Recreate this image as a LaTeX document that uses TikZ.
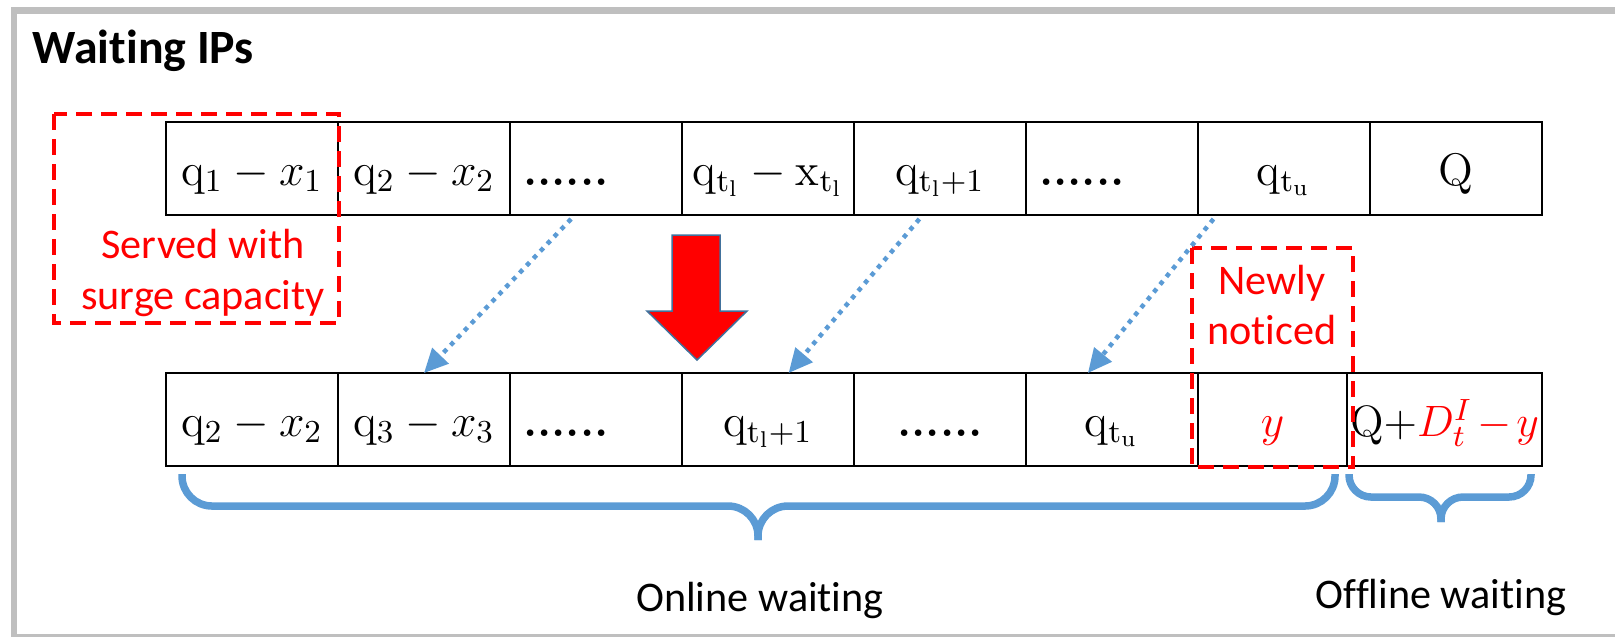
\RequirePackage{fix-cm}
\documentclass[tikz,border=0pt]{standalone}
\usepackage{fontspec}
\newfontfamily\calibri[Ligatures=NoCommon]{Carlito}
\usetikzlibrary{positioning, calc, arrows.meta}
\definecolor{framegray}{HTML}{BFBFBF}
\definecolor{lineblue}{HTML}{5B9BD5}
\definecolor{edgeblue}{HTML}{41719C}
\tikzset{
	cell/.style={draw, line width=0.25mm, minimum width=17.2mm, minimum height=9.3mm,
		inner sep=0pt, outer sep=0pt, text height=12pt, text depth=2.6pt,
		font={\fontsize{13}{15}\selectfont}}
}
\tikzset{
	dotcell/.style={cell, text width=14.6mm, inner xsep=1.3mm, align=left}
}
\tikzset{
	redbox/.style={draw=red, line width=0.35mm, dash pattern=on 1.6mm off 0.9mm}
}
\tikzset{
	redtext/.style={text=red, align=center, inner sep=0pt, font={\calibri\fontsize{12}{14.4}\selectfont}}
}
\tikzset{
	waitlabel/.style={anchor=base, inner sep=0pt, font={\calibri\fontsize{12}{14}\selectfont}}
}
\tikzset{
	dotarrow/.style={draw=lineblue, line width=0.45mm, dash pattern=on 0.45mm off 0.55mm,
		-{Triangle[length=2.4mm, width=2.2mm]}}
}
\tikzset{
	bracepath/.style={draw=lineblue, line width=0.75mm, rounded corners=3mm}
}
\newcommand{\rmt}[1]{\mathrm{#1}}
\newcommand{\sixdots}{\textbf{......}}

\begin{document}
\begin{tikzpicture}[x=0.1mm, y=-0.1mm]
  \useasboundingbox (0,0) rectangle (1615,636);
  \draw[framegray, line width=0.65mm] (1700,10.5) -- (14,10.5) -- (14,637) -- (1700,637);
  \node[anchor=base west, inner sep=0pt, font={\calibri\bfseries\fontsize{13.6}{15}\selectfont}] (title) at (32,63) {Waiting IPs};
  \node[cell] (t1) at (252,168.5) {$\rmt{q}_1 - x_1$};
  \node[cell, right=0pt of t1] (t2) {$\rmt{q}_2 - x_2$};
  \node[dotcell, right=0pt of t2] (t3) {\sixdots};
  \node[cell, right=0pt of t3] (t4) {$\rmt{q}_{\rmt{t}_\rmt{l}} - \rmt{x}_{\rmt{t}_\rmt{l}}$};
  \node[cell, right=0pt of t4] (t5) {$\rmt{q}_{\rmt{t}_\rmt{l}+1}$};
  \node[dotcell, right=0pt of t5] (t6) {\sixdots};
  \node[cell, right=0pt of t6] (t7) {$\rmt{q}_{\rmt{t}_\rmt{u}}$};
  \node[cell, right=0pt of t7] (t8) {$\rmt{Q}$};
  \node[cell] (b1) at (252,419.5) {$\rmt{q}_2 - x_2$};
  \node[cell, right=0pt of b1] (b2) {$\rmt{q}_3 - x_3$};
  \node[dotcell, right=0pt of b2] (b3) {\sixdots};
  \node[cell, right=0pt of b3] (b4) {$\rmt{q}_{\rmt{t}_\rmt{l}+1}$};
  \node[cell, right=0pt of b4] (b5) {\sixdots};
  \node[cell, right=0pt of b5] (b6) {$\rmt{q}_{\rmt{t}_\rmt{u}}$};
  \node[cell, right=0pt of b6, minimum width=14.9mm] (b7) {$\textcolor{red}{y}$};
  \node[cell, right=0pt of b7, minimum width=19.5mm, font={\fontsize{12.5}{15}\selectfont}] (b8) {$\rmt{Q}{+}\textcolor{red}{D_t^I\mskip2mu{-}\mskip2mu y}$};
  \draw[redbox] (54,114) rectangle (339,323);
  \node[redtext] (served) at (203,273) {Served with\\surge capacity};
  \draw[redbox] (1192,248) rectangle (1353,467);
  \node[redtext] (newly) at (1272,305) {Newly\\noticed};
  \filldraw[fill=red, draw=edgeblue, line width=0.15mm] (672,235) -- (720,235) -- (720,311) -- (747,311) -- (697,360) -- (647,311) -- (672,311) -- cycle;
  \draw[dotarrow] ($(t3.south west)!0.355!(t3.south east) + (0,4)$) -- (b2.north);
  \draw[dotarrow] ($(t5.south west)!0.38!(t5.south east) + (0,4)$) -- ($(b4.north west)!0.62!(b4.north east)$);
  \draw[dotarrow] ($(t7.south west)!0.09!(t7.south east) + (0,4)$) -- ($(b6.north west)!0.36!(b6.north east)$);
  \draw[bracepath] (182,474) -- (182,506) -- (758,506) -- (758,540);
  \draw[bracepath] (1335,474) -- (1335,506) -- (758,506) -- (758,540);
  \draw[bracepath, rounded corners=2.2mm] (1349,474) -- (1349,497) -- (1441,497) -- (1441,522);
  \draw[bracepath, rounded corners=2.2mm] (1531,474) -- (1531,497) -- (1441,497) -- (1441,522);
  \node[waitlabel] (online) at (760,611) {Online waiting};
  \node[waitlabel] (offline) at (1441,608) {Offline waiting};
\end{tikzpicture}
\end{document}
